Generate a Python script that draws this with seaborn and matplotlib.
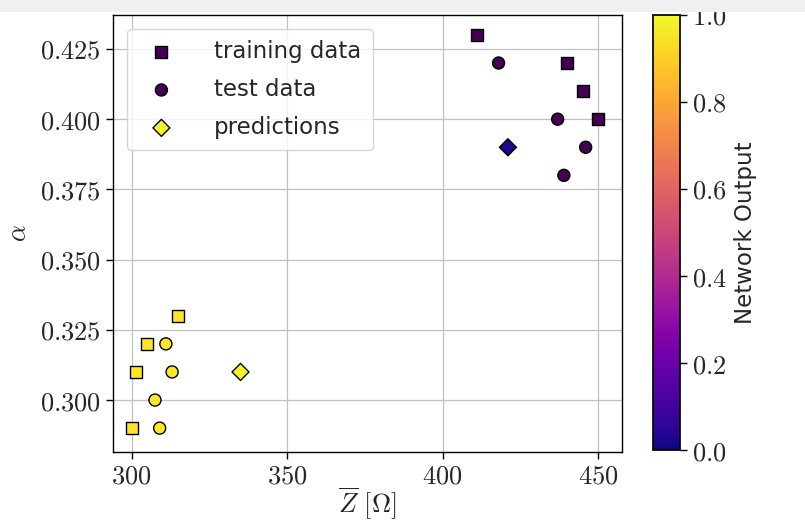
import matplotlib
matplotlib.use("Agg")
import matplotlib.pyplot as plt
from matplotlib.colors import Normalize
from matplotlib.cm import ScalarMappable
from matplotlib.ticker import FuncFormatter
from matplotlib.patches import Rectangle
import seaborn as sns
import pandas as pd

# Values
train_z = [411, 440, 445, 450, 300, 301.5, 305, 315]
train_alpha = [0.43, 0.42, 0.41, 0.40, 0.29, 0.31, 0.32, 0.33]
train_label = [0, 0, 0, 0, 1, 1, 1, 1]

test_z = [418, 437, 446, 439, 311, 313, 307.5, 309]
test_alpha = [0.42, 0.40, 0.39, 0.38, 0.32, 0.31, 0.30, 0.29]
test_label = [0, 0, 0, 0, 1, 1, 1, 1]

pred_z = [335, 421]
pred_alpha = [0.31, 0.39]
pred_output = [0.99, 0.03]

legend_labels = ["training data", "test data", "predictions"]

sns.set_theme(style="ticks")
plt.rcParams["font.family"] = ["DejaVu Sans"]
plt.rcParams["mathtext.fontset"] = "cm"

train = pd.DataFrame({"z": train_z, "alpha": train_alpha, "label": train_label})
test = pd.DataFrame({"z": test_z, "alpha": test_alpha, "label": test_label})
pred = pd.DataFrame({"z": pred_z, "alpha": pred_alpha, "out": pred_output})

fig = plt.figure(figsize=(8.05, 5.22), dpi=100)
ax = fig.add_axes([0.1404, 0.1341, 0.6323, 0.8372])
cax = fig.add_axes([0.8112, 0.1379, 0.0335, 0.8334])

common = dict(x="z", y="alpha", edgecolor="black", linewidth=1.0, s=75, legend=False, ax=ax, zorder=3)
sns.scatterplot(data=train, hue="label", palette="viridis", hue_norm=(0, 1), marker="s", **common)
sns.scatterplot(data=test, hue="label", palette="viridis", hue_norm=(0, 1), marker="o", **common)
sns.scatterplot(data=pred, hue="out", palette="plasma", hue_norm=(0, 1), marker="D", **common)

ax.set_xlim(294, 457.7)
ax.set_ylim(0.2815, 0.4371)
ax.set_xticks([300, 350, 400, 450])
ax.set_yticks([0.300, 0.325, 0.350, 0.375, 0.400, 0.425])
ax.xaxis.set_major_formatter(FuncFormatter(lambda v, p: f"${v:.0f}$"))
ax.yaxis.set_major_formatter(FuncFormatter(lambda v, p: f"${v:.3f}$"))
ax.tick_params(labelsize=19, length=5, width=1, color="black")
ax.grid(True, color="#c0c0c0", linewidth=0.9)
ax.set_axisbelow(True)
for sp in ax.spines.values():
    sp.set_color("black")
    sp.set_linewidth(1.0)
ax.set_xlabel(r"$\overline{Z}\ [\Omega]$", fontsize=19, labelpad=-3)
ax.set_ylabel(r"$\alpha$", fontsize=19, labelpad=6)

ax.legend(handles=ax.collections[:3], labels=legend_labels, loc="upper left",
          fontsize=16.5, frameon=True, borderpad=0.5, handletextpad=1.3,
          labelspacing=0.65, bbox_to_anchor=(0.005, 0.995))

cb = fig.colorbar(ScalarMappable(norm=Normalize(0, 1), cmap="plasma"), cax=cax)
cb.set_ticks([0.0, 0.2, 0.4, 0.6, 0.8, 1.0])
cb.ax.yaxis.set_major_formatter(FuncFormatter(lambda v, p: f"${v:.1f}$"))
cb.ax.tick_params(labelsize=19, length=5, width=1, color="black")
cb.outline.set_edgecolor("black")
cb.set_label("Network Output", fontsize=16.5, labelpad=5)

# light grey band along the top edge, as in the screenshot
fig.patches.append(Rectangle((0, 0.977), 1, 0.023, transform=fig.transFigure,
                             facecolor="#f0f0f0", edgecolor="none", zorder=10))

fig.savefig("out.png", dpi=100)
